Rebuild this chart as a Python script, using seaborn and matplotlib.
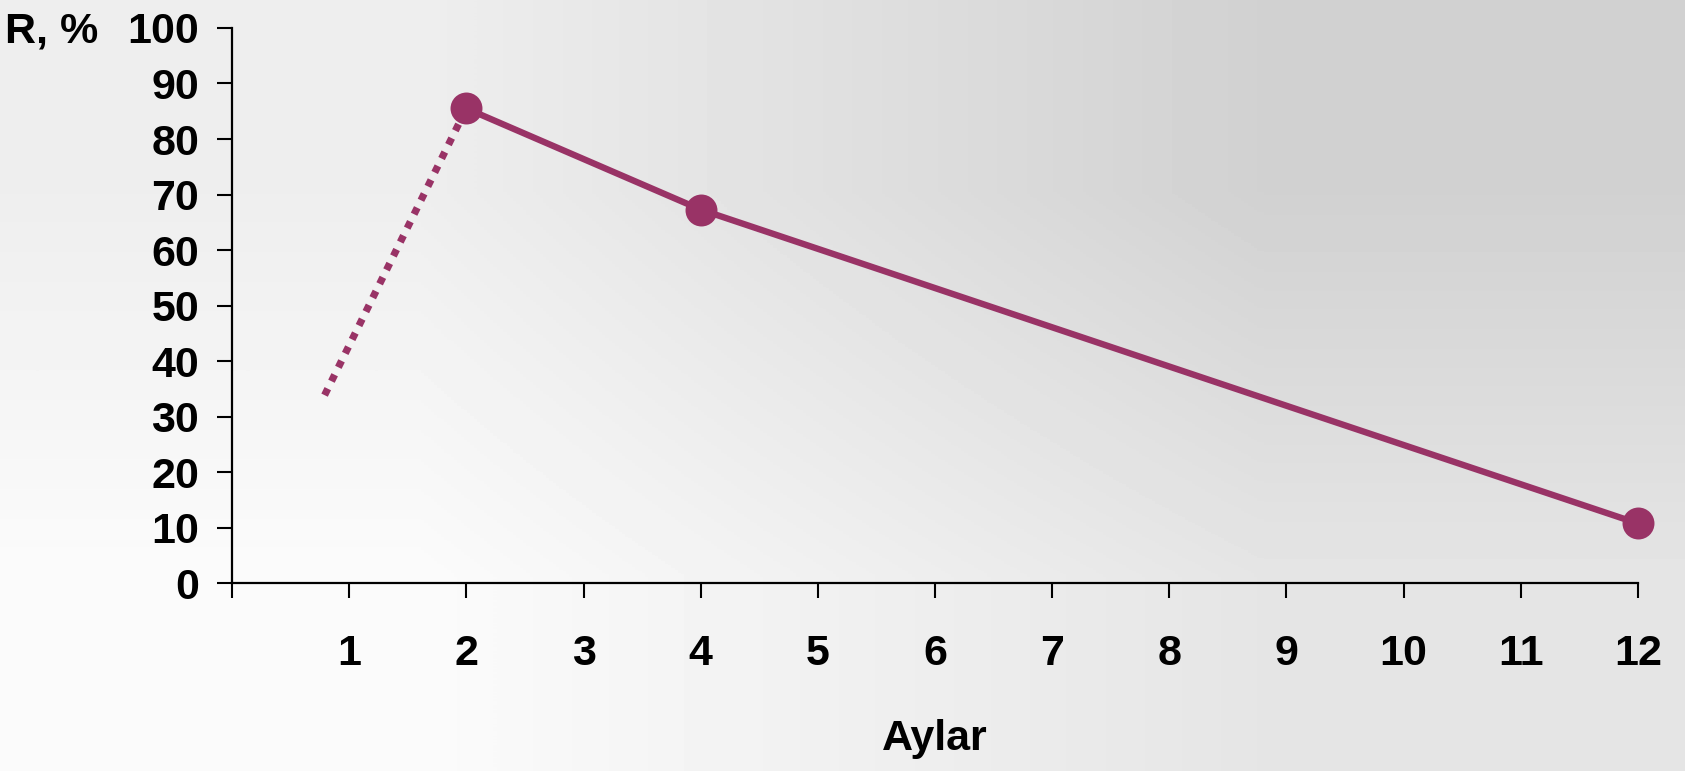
import numpy as np
import pandas as pd
import matplotlib
matplotlib.use("Agg")
import matplotlib.pyplot as plt
import seaborn as sns

# Measured recurrence rate by month
months = [2, 4, 12]
rate = [85.5, 67.3, 10.8]

# Extrapolated early segment (dotted)
trend_months = [0.79, 2]
trend_rate = [33.9, 85.5]

x_ticks = list(range(0, 13))
x_labels = [""] + [str(m) for m in range(1, 13)]
y_ticks = list(range(0, 101, 10))

sns.set_theme(style="white")
plt.rcParams["font.family"] = ["Liberation Sans", "DejaVu Sans"]
plt.rcParams["font.weight"] = "bold"

LINE_COLOR = "#993366"
FONT_SIZE = 31

fig = plt.figure(figsize=(16.85, 7.71), dpi=100)

# Soft diagonal grey gradient behind everything
bg = fig.add_axes([0, 0, 1, 1], zorder=-1)
corners = np.array([[238, 209], [251, 229]], dtype=float) / 255.0
bg.imshow(corners, cmap="gray", vmin=0, vmax=1, interpolation="bilinear",
          extent=[0, 1, 0, 1], aspect="auto")
bg.set_axis_off()

ax = fig.add_axes([0.1377, 0.2432, 0.8344, 0.7206], zorder=1)
ax.set_facecolor("none")

trend_df = pd.DataFrame({"month": trend_months, "rate": trend_rate})
sns.lineplot(data=trend_df, x="month", y="rate", ax=ax, color=LINE_COLOR,
             linewidth=5.2, sort=False)
trend_line = ax.lines[-1]
trend_line.set_dashes((1.0, 1.15))
trend_line.set_dash_capstyle("butt")
trend_line.set_clip_on(False)

df = pd.DataFrame({"month": months, "rate": rate})
sns.lineplot(data=df, x="month", y="rate", ax=ax, color=LINE_COLOR,
             linewidth=4.6, marker="o", markersize=23,
             markeredgewidth=0, markerfacecolor=LINE_COLOR)
ax.lines[-1].set_clip_on(False)

ax.set_xlim(0, 12)
ax.set_ylim(0, 100)
ax.set_xticks(x_ticks)
ax.set_xticklabels(x_labels)
ax.set_yticks(y_ticks)

for side in ("top", "right"):
    ax.spines[side].set_visible(False)
for side in ("left", "bottom"):
    ax.spines[side].set_color("black")
    ax.spines[side].set_linewidth(1.6)

ax.tick_params(axis="x", direction="out", length=10.6, width=1.5,
               color="black", pad=26, labelsize=FONT_SIZE, labelcolor="black",
               bottom=True)
ax.tick_params(axis="y", direction="out", length=10.6, width=1.5,
               color="black", pad=13, labelsize=FONT_SIZE, labelcolor="black",
               left=True)
for lbl in ax.get_xticklabels() + ax.get_yticklabels():
    lbl.set_fontweight("bold")

ax.set_xlabel("Aylar", fontsize=FONT_SIZE, fontweight="bold", color="black",
              va="center")
ax.xaxis.set_label_coords(0.5, -0.28)
ax.set_ylabel("R, %", fontsize=FONT_SIZE, fontweight="bold", color="black",
              rotation=0, ha="center", va="center")
ax.yaxis.set_label_coords(-0.128, 0.993)

fig.savefig("out.png", dpi=100)
